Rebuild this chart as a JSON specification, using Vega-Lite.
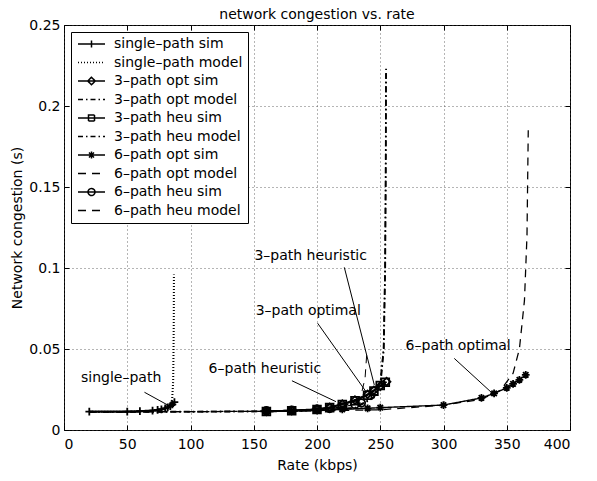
{
  "$schema": "https://vega.github.io/schema/vega-lite/v6.json",
  "width": 506,
  "height": 405,
  "autosize": {"type": "none"},
  "padding": {"left": 64, "top": 25, "right": 27, "bottom": 51},
  "background": "white",
  "title": {"text": "network congestion vs. rate", "font": "DejaVu Sans", "fontSize": 14, "fontWeight": "normal", "color": "black", "offset": -4},
  "config": {
    "view": {"stroke": "black", "strokeWidth": 1},
    "axis": {"domain": false, "grid": true, "gridColor": "#444", "gridDash": [1, 3], "gridWidth": 0.8, "tickColor": "black", "tickSize": -5, "tickWidth": 1, "labelFont": "DejaVu Sans", "labelFontSize": 14, "labelColor": "black", "titleFont": "DejaVu Sans", "titleFontSize": 14, "titleFontWeight": "normal", "titleColor": "black"}
  },
  "datasets": {
    "pts": [
      {"series": "single–path sim", "rate": 20, "val": 0.0113},
      {"series": "single–path sim", "rate": 50, "val": 0.0114},
      {"series": "single–path sim", "rate": 60, "val": 0.0116},
      {"series": "single–path sim", "rate": 70, "val": 0.012},
      {"series": "single–path sim", "rate": 74, "val": 0.0124},
      {"series": "single–path sim", "rate": 77, "val": 0.0128},
      {"series": "single–path sim", "rate": 80, "val": 0.0134},
      {"series": "single–path sim", "rate": 82, "val": 0.014},
      {"series": "single–path sim", "rate": 84, "val": 0.0148},
      {"series": "single–path sim", "rate": 85.7, "val": 0.0158},
      {"series": "single–path sim", "rate": 87.3, "val": 0.0172},
      {"series": "single–path model", "rate": 20, "val": 0.0112},
      {"series": "single–path model", "rate": 50, "val": 0.0113},
      {"series": "single–path model", "rate": 70, "val": 0.0118},
      {"series": "single–path model", "rate": 80, "val": 0.013},
      {"series": "single–path model", "rate": 84, "val": 0.015},
      {"series": "single–path model", "rate": 85.5, "val": 0.019},
      {"series": "single–path model", "rate": 86.3, "val": 0.03},
      {"series": "single–path model", "rate": 86.6, "val": 0.05},
      {"series": "single–path model", "rate": 86.8, "val": 0.07},
      {"series": "single–path model", "rate": 86.9, "val": 0.096},
      {"series": "3–path opt sim", "rate": 160, "val": 0.0115},
      {"series": "3–path opt sim", "rate": 180, "val": 0.012},
      {"series": "3–path opt sim", "rate": 200, "val": 0.0128},
      {"series": "3–path opt sim", "rate": 210, "val": 0.014},
      {"series": "3–path opt sim", "rate": 220, "val": 0.016},
      {"series": "3–path opt sim", "rate": 230, "val": 0.0185},
      {"series": "3–path opt sim", "rate": 240, "val": 0.022},
      {"series": "3–path opt sim", "rate": 245, "val": 0.0245},
      {"series": "3–path opt sim", "rate": 250, "val": 0.027},
      {"series": "3–path opt sim", "rate": 255, "val": 0.0298},
      {"series": "3–path opt model", "rate": 20, "val": 0.0112},
      {"series": "3–path opt model", "rate": 100, "val": 0.0113},
      {"series": "3–path opt model", "rate": 150, "val": 0.0115},
      {"series": "3–path opt model", "rate": 200, "val": 0.012},
      {"series": "3–path opt model", "rate": 230, "val": 0.0135},
      {"series": "3–path opt model", "rate": 245, "val": 0.02},
      {"series": "3–path opt model", "rate": 250.5, "val": 0.031},
      {"series": "3–path opt model", "rate": 252.8, "val": 0.05},
      {"series": "3–path opt model", "rate": 253.9, "val": 0.1},
      {"series": "3–path opt model", "rate": 254.3, "val": 0.15},
      {"series": "3–path opt model", "rate": 254.6, "val": 0.223},
      {"series": "3–path heu sim", "rate": 160, "val": 0.0114},
      {"series": "3–path heu sim", "rate": 180, "val": 0.0119},
      {"series": "3–path heu sim", "rate": 200, "val": 0.0126},
      {"series": "3–path heu sim", "rate": 210, "val": 0.0138},
      {"series": "3–path heu sim", "rate": 220, "val": 0.0158},
      {"series": "3–path heu sim", "rate": 230, "val": 0.018},
      {"series": "3–path heu sim", "rate": 240, "val": 0.0215},
      {"series": "3–path heu sim", "rate": 245, "val": 0.024},
      {"series": "3–path heu sim", "rate": 250, "val": 0.0275},
      {"series": "3–path heu sim", "rate": 254, "val": 0.0295},
      {"series": "3–path heu model", "rate": 20, "val": 0.0112},
      {"series": "3–path heu model", "rate": 100, "val": 0.0113},
      {"series": "3–path heu model", "rate": 150, "val": 0.0115},
      {"series": "3–path heu model", "rate": 200, "val": 0.0121},
      {"series": "3–path heu model", "rate": 230, "val": 0.0137},
      {"series": "3–path heu model", "rate": 245, "val": 0.0205},
      {"series": "3–path heu model", "rate": 250.3, "val": 0.031},
      {"series": "3–path heu model", "rate": 252.6, "val": 0.05},
      {"series": "3–path heu model", "rate": 253.8, "val": 0.1},
      {"series": "3–path heu model", "rate": 254.3, "val": 0.16},
      {"series": "3–path heu model", "rate": 254.5, "val": 0.22},
      {"series": "6–path opt sim", "rate": 160, "val": 0.0113},
      {"series": "6–path opt sim", "rate": 180, "val": 0.0117},
      {"series": "6–path opt sim", "rate": 200, "val": 0.0121},
      {"series": "6–path opt sim", "rate": 220, "val": 0.0127},
      {"series": "6–path opt sim", "rate": 240, "val": 0.0134},
      {"series": "6–path opt sim", "rate": 250, "val": 0.0138},
      {"series": "6–path opt sim", "rate": 300, "val": 0.0154},
      {"series": "6–path opt sim", "rate": 330, "val": 0.0198},
      {"series": "6–path opt sim", "rate": 340, "val": 0.0226},
      {"series": "6–path opt sim", "rate": 350, "val": 0.026},
      {"series": "6–path opt sim", "rate": 355, "val": 0.0285},
      {"series": "6–path opt sim", "rate": 360, "val": 0.031},
      {"series": "6–path opt sim", "rate": 365, "val": 0.034},
      {"series": "6–path opt model", "rate": 20, "val": 0.0112},
      {"series": "6–path opt model", "rate": 100, "val": 0.0113},
      {"series": "6–path opt model", "rate": 200, "val": 0.0118},
      {"series": "6–path opt model", "rate": 250, "val": 0.0125},
      {"series": "6–path opt model", "rate": 300, "val": 0.0153},
      {"series": "6–path opt model", "rate": 330, "val": 0.019},
      {"series": "6–path opt model", "rate": 345, "val": 0.0245},
      {"series": "6–path opt model", "rate": 355, "val": 0.035},
      {"series": "6–path opt model", "rate": 360, "val": 0.05},
      {"series": "6–path opt model", "rate": 364, "val": 0.08},
      {"series": "6–path opt model", "rate": 366, "val": 0.12},
      {"series": "6–path opt model", "rate": 367, "val": 0.185},
      {"series": "6–path heu sim", "rate": 160, "val": 0.0118},
      {"series": "6–path heu sim", "rate": 180, "val": 0.0122},
      {"series": "6–path heu sim", "rate": 200, "val": 0.0128},
      {"series": "6–path heu sim", "rate": 210, "val": 0.0133},
      {"series": "6–path heu sim", "rate": 220, "val": 0.0142},
      {"series": "6–path heu sim", "rate": 230, "val": 0.0158},
      {"series": "6–path heu sim", "rate": 235, "val": 0.0167},
      {"series": "6–path heu model", "rate": 20, "val": 0.0112},
      {"series": "6–path heu model", "rate": 100, "val": 0.0113},
      {"series": "6–path heu model", "rate": 160, "val": 0.0115},
      {"series": "6–path heu model", "rate": 200, "val": 0.0125},
      {"series": "6–path heu model", "rate": 220, "val": 0.0145},
      {"series": "6–path heu model", "rate": 230, "val": 0.0175},
      {"series": "6–path heu model", "rate": 235, "val": 0.022},
      {"series": "6–path heu model", "rate": 238, "val": 0.032},
      {"series": "6–path heu model", "rate": 239.5, "val": 0.049}
    ],
    "ann": [
      {"label": "single–path", "tx": 45.2, "ty": 0.032},
      {"label": "6–path heuristic", "tx": 158.8, "ty": 0.0375},
      {"label": "3–path optimal", "tx": 193.1, "ty": 0.0735},
      {"label": "3–path heuristic", "tx": 195, "ty": 0.1077},
      {"label": "6–path optimal", "tx": 311.6, "ty": 0.0519}
    ],
    "ptr": [
      {"x": 63.6, "y": 0.0233, "x2": 82, "y2": 0.0154},
      {"x": 180.2, "y": 0.0304, "x2": 215, "y2": 0.0175},
      {"x": 200.5, "y": 0.0659, "x2": 238.7, "y2": 0.0237},
      {"x": 221.6, "y": 0.1004, "x2": 245.3, "y2": 0.0278},
      {"x": 308.5, "y": 0.0442, "x2": 338.7, "y2": 0.0226}
    ]
  },
  "resolve": {"scale": {"shape": "independent", "strokeDash": "independent"}, "legend": {"shape": "independent", "strokeDash": "independent"}, "axis": {"x": "independent", "y": "independent"}},
  "layer": [
    {
      "data": {"name": "pts"},
      "mark": {"type": "line", "color": "black", "clip": true},
      "encoding": {
        "x": {"field": "rate", "type": "quantitative", "scale": {"domain": [0, 400], "nice": false}, "axis": {"orient": "bottom", "values": [0, 50, 100, 150, 200, 250, 300, 350, 400], "title": "Rate (kbps)", "labelPadding": 12, "titlePadding": 7}},
        "y": {"field": "val", "type": "quantitative", "scale": {"domain": [0, 0.25], "nice": false}, "axis": {"orient": "left", "values": [0, 0.05, 0.1, 0.15, 0.2, 0.25], "format": "~g", "title": "Network congestion (s)", "labelPadding": 9, "titlePadding": 4}},
        "detail": {"field": "series"},
        "strokeDash": {"field": "series", "type": "nominal", "legend": null, "scale": {"domain": ["single–path sim", "single–path model", "3–path opt sim", "3–path opt model", "3–path heu sim", "3–path heu model", "6–path opt sim", "6–path opt model", "6–path heu sim", "6–path heu model"], "range": [[1, 0], [1, 2], [1, 0], [6, 3, 1.5, 3], [1, 0], [6, 3, 1.5, 3], [1, 0], [8, 6], [1, 0], [8, 6]]}},
        "strokeWidth": {"field": "series", "type": "nominal", "legend": null, "scale": {"domain": ["single–path sim", "single–path model", "3–path opt sim", "3–path opt model", "3–path heu sim", "3–path heu model", "6–path opt sim", "6–path opt model", "6–path heu sim", "6–path heu model"], "range": [2.2, 1, 2.2, 2.5, 2.2, 2.5, 2.2, 2.5, 2.2, 2.5]}}
      }
    },
    {
      "data": {"name": "pts"},
      "transform": [{"filter": "indexof(datum.series, 'sim') >= 0"}],
      "mark": {"type": "point", "filled": false, "color": "black", "strokeWidth": 1.8, "size": 60, "opacity": 1},
      "encoding": {
        "x": {"field": "rate", "type": "quantitative", "axis": null},
        "y": {"field": "val", "type": "quantitative", "axis": null},
        "shape": {"field": "series", "type": "nominal", "legend": null, "scale": {"domain": ["single–path sim", "3–path opt sim", "3–path heu sim", "6–path opt sim", "6–path heu sim"], "range": ["M-1,0H1M0,-1V1", "diamond", "square", "M-1,0H1M0,-1V1M-0.7,-0.7L0.7,0.7M-0.7,0.7L0.7,-0.7", "circle"]}}
      }
    },
    {
      "data": {"name": "pts"},
      "transform": [{"filter": "false"}],
      "mark": {"type": "point", "filled": false, "color": "black", "strokeWidth": 1.5, "opacity": 1},
      "encoding": {
        "x": {"field": "rate", "type": "quantitative", "axis": {"orient": "top", "labels": false, "grid": false, "title": null, "values": [0, 50, 100, 150, 200, 250, 300, 350, 400]}},
        "y": {"field": "val", "type": "quantitative", "axis": {"orient": "right", "labels": false, "grid": false, "title": null, "values": [0, 0.05, 0.1, 0.15, 0.2, 0.25]}},
        "shape": {"field": "series", "type": "nominal", "scale": {"domain": ["single–path sim", "single–path model", "3–path opt sim", "3–path opt model", "3–path heu sim", "3–path heu model", "6–path opt sim", "6–path opt model", "6–path heu sim", "6–path heu model"], "range": ["M-1,0H4.4M1.7,-0.7V0.7", "M-1,0H4.4", "M-1,0H4.4M1.7,-0.75L2.45,0L1.7,0.75L0.95,0Z", "M-1,0H4.4", "M-1,0H4.4M1.1,-0.6H2.3V0.6H1.1Z", "M-1,0H4.4", "M-1,0H4.4M1.7,-0.7V0.7M1.2,-0.5L2.2,0.5M1.2,0.5L2.2,-0.5", "M-1,0H4.4", "M-1,0H4.4M1,0A0.7,0.7,0,1,0,2.4,0A0.7,0.7,0,1,0,1,0", "M-1,0H4.4"]},
          "legend": {"title": null, "orient": "top-left", "offset": 7, "padding": 5, "strokeColor": "black", "fillColor": "white", "cornerRadius": 0, "symbolSize": 100, "symbolStrokeWidth": 1.5, "symbolStrokeColor": "black", "symbolFillColor": "transparent", "labelOffset": 24, "rowPadding": 4.5, "labelFont": "DejaVu Sans", "labelFontSize": 14, "labelColor": "black", "labelLimit": 300}},
        "strokeDash": {"field": "series", "type": "nominal", "scale": {"domain": ["single–path sim", "single–path model", "3–path opt sim", "3–path opt model", "3–path heu sim", "3–path heu model", "6–path opt sim", "6–path opt model", "6–path heu sim", "6–path heu model"], "range": [[1, 0], [1, 2], [1, 0], [5, 3, 1.5, 3], [1, 0], [5, 3, 1.5, 3], [1, 0], [8, 6], [1, 0], [8, 6]]},
          "legend": {"title": null, "orient": "top-left", "offset": 7, "padding": 5, "strokeColor": "black", "fillColor": "white", "cornerRadius": 0, "symbolSize": 100, "symbolStrokeWidth": 1.5, "symbolStrokeColor": "black", "symbolFillColor": "transparent", "labelOffset": 24, "rowPadding": 4.5, "labelFont": "DejaVu Sans", "labelFontSize": 14, "labelColor": "black", "labelLimit": 300}}
      }
    },
    {
      "data": {"name": "ptr"},
      "mark": {"type": "rule", "color": "black", "strokeWidth": 1},
      "encoding": {
        "x": {"field": "x", "type": "quantitative", "axis": null},
        "y": {"field": "y", "type": "quantitative", "axis": null},
        "x2": {"field": "x2"},
        "y2": {"field": "y2"}
      }
    },
    {
      "data": {"name": "ann"},
      "mark": {"type": "text", "font": "DejaVu Sans", "fontSize": 14, "color": "black", "align": "center", "baseline": "middle"},
      "encoding": {
        "x": {"field": "tx", "type": "quantitative", "axis": null},
        "y": {"field": "ty", "type": "quantitative", "axis": null},
        "text": {"field": "label"}
      }
    }
  ]
}
